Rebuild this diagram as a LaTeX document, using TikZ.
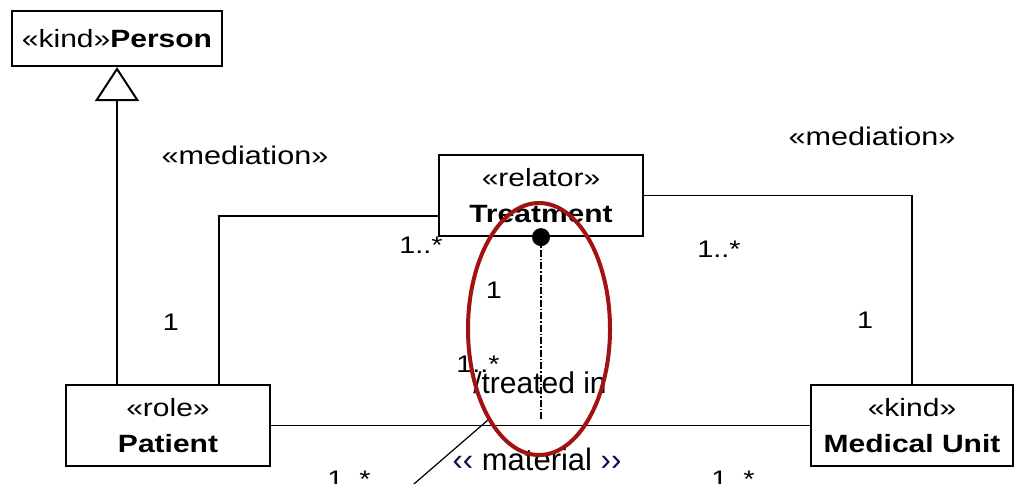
\documentclass[tikz,border=0pt]{standalone}
\usepackage{fontspec}
\setmainfont{Liberation Sans}[FakeStretch=1.2]
\newfontfamily\plainsans{Liberation Sans}
\usetikzlibrary{arrows.meta,calc}
\definecolor{ovalred}{RGB}{163,18,18}
\definecolor{chevnavy}{RGB}{10,10,80}
\begin{document}
\begin{tikzpicture}[x=1pt,y=-1pt,
  umlbox/.style={draw, line width=2.2pt, inner sep=0pt, align=center,
    font=\fontsize{25}{36}\selectfont},
  conn/.style={line width=1.3pt},
  lbl/.style={inner sep=0pt, anchor=base, font=\fontsize{24}{24}\selectfont},
  stereo/.style={inner sep=0pt, anchor=base, font=\fontsize{25.5}{25.5}\selectfont},
  bigtxt/.style={inner sep=0pt, anchor=base, font=\plainsans\fontsize{30}{30}\selectfont}]
\useasboundingbox[fill=white] (0,0) rectangle (1022,483);
\clip (0,0) rectangle (1022,483);

% classes
\node[umlbox, minimum width=210pt, minimum height=55pt] (person) at (117,38.5) {«kind»\textbf{Person}};
\node[umlbox, minimum width=204pt, minimum height=81pt] (patient) at (168,425.5) {«role»\\\textbf{Patient}};
\node[umlbox, minimum width=204pt, minimum height=81pt] (treatment) at (541,195.5) {«relator»\\\textbf{Treatment}};
\node[umlbox, minimum width=202pt, minimum height=81pt] (medical) at (912,425.5) {«kind»\\\textbf{Medical Unit}};

% connectors
\draw[conn, -{Triangle[open, width=44pt, length=34pt, line width=2pt]}] (person.south |- patient.north) -- (person.south);
\draw[conn] ([xshift=51pt]patient.north) |- ([yshift=-20.5pt]treatment.west);
\draw[conn] (treatment.east) -| (medical.north);
\draw[conn] (patient.east) -- (medical.west);

% derivation
\node[circle, fill, inner sep=0pt, minimum size=18pt] (dot) at (treatment.south) {};
\coordinate (dashend) at (541,420);
\draw[line width=1.5pt, dash pattern=on 7pt off 2pt on 1.5pt off 2pt] (dot.center) -- (dashend);
\coordinate (diagA) at (488,420);
\coordinate (diagB) at (400,496);
\draw[line width=1.2pt] (diagA) -- (diagB);

% labels
\node[stereo] (medL) at (245,164) {«mediation»};
\node[stereo] (medR) at (872,145) {«mediation»};
\node[lbl] (m1) at (171,330) {1};
\node[lbl] (m2) at (421,253) {1..*};
\node[lbl] (m3) at (494,298) {1};
\node[lbl] (m4) at (478,372) {1..*};
\node[lbl] (m5) at (719,257) {1..*};
\node[lbl] (m6) at (865,328) {1};
\node[lbl] (m7) at (349,487) {1..*};
\node[lbl] (m8) at (733,487) {1..*};
\node[bigtxt] (treated) at (540,393) {/treated in};
\node[bigtxt, font=\plainsans\fontsize{31}{31}\selectfont] (material) at (537,470) {\textcolor{chevnavy}{‹‹} material \textcolor{chevnavy}{››}};

% highlight
\draw[ovalred, line width=4pt] (539,329) ellipse [x radius=71pt, y radius=126pt];
\end{tikzpicture}
\end{document}
